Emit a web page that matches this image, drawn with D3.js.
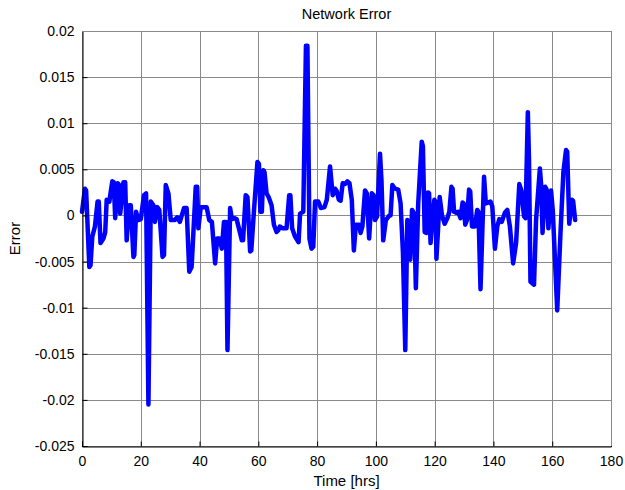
<!DOCTYPE html>
<html>
<head>
<meta charset="utf-8">
<script src="https://cdn.jsdelivr.net/npm/d3@7"></script>
<style>
  body { margin: 0; background: #fff; }
  text { font-family: Arial, "Liberation Sans", sans-serif; fill: #000; }
</style>
</head>
<body>
<svg id="chart" width="625" height="490"></svg>
<script>
// Data (time in hours, network error)
const hours = [0,1.0,1.4,2.5,2.9,3.5,4.4,5.3,5.7,6.3,7.3,7.9,8.4,9.3,10.3,10.8,11.3,12.1,12.7,13.0,
  14.1,14.7,15.2,16.0,16.6,17.5,17.8,18.4,19.2,20.0,21.1,21.8,22.6,23.4,24.3,24.8,25.6,26.3,27.4,27.9,
  28.5,29.4,30.2,31.6,32.4,33.3,34.7,35.6,36.5,37.3,38.7,39.2,39.6,40.4,42.4,43.3,44.2,45.3,46.0,46.8,
  47.6,48.3,49.0,49.5,50.4,51.0,51.8,52.6,53.4,54.4,54.8,55.7,56.3,57.2,57.6,58.6,59.7,60.2,60.7,61.2,
  61.7,62.1,62.8,63.5,64.5,65.3,66.2,66.8,67.3,68.3,69.6,70.5,70.9,71.5,72.5,73.7,74.2,75.3,76.2,76.7,
  77.4,78.1,78.7,79.3,80.4,81.3,82.5,83.3,84.4,85.3,86.1,86.6,87.4,88.0,88.7,89.5,90.3,91.0,91.8,92.5,
  93.2,94.3,94.8,95.4,96.3,96.9,97.7,98.6,99.2,99.7,100.4,101.4,101.9,102.5,103.4,104.6,105.0,105.6,106.5,107.6,
  108.4,109.2,110.0,110.7,111.2,111.7,112.3,113.0,113.6,114.4,115.6,116.0,116.6,117.1,117.7,118.1,118.6,119.2,119.9,120.3,
  120.6,121.2,121.7,122.5,123.4,124.3,125.0,125.7,126.1,126.6,127.3,128.0,128.8,129.5,129.9,130.4,131.0,131.7,132.1,132.7,
  133.7,134.5,134.9,135.6,136.8,137.4,139.0,139.6,140.5,141.3,142.0,142.8,143.9,144.7,145.6,146.7,147.7,148.8,149.5,150.4,
  150.9,151.7,152.1,152.6,153.8,154.5,155.8,156.3,156.7,157.6,158.1,158.7,159.6,160.2,161.7,162.8,163.8,164.7,165.1,165.8,
  166.7,167.1,167.8]
const errors = [0.0004,0.0029,0.0027,-0.0056,-0.0054,-0.0023,-0.0012,0.0015,0.0015,-0.0030,-0.0025,-0.0018,0.0017,0.0015,0.0037,0.0036,-0.0003,0.0035,0.0033,0.0002,
  0.0036,0.0036,-0.0027,0.0011,0.0011,-0.0045,-0.0043,0.0004,-0.0005,-0.0004,0.0022,0.0024,-0.0205,0.0015,0.0011,-0.0007,0.0009,0.0006,-0.0045,-0.0043,
  0.0033,0.0024,-0.0005,-0.0005,-0.0002,-0.0007,0.0008,0.0008,-0.0061,-0.0056,0.0031,0.0031,-0.0014,0.0009,0.0009,-0.0005,-0.0007,-0.0052,-0.0025,-0.0025,
  -0.0036,-0.0007,-0.0007,-0.0146,0.0008,-0.0004,-0.0003,-0.0004,-0.0014,-0.0027,-0.0027,0.0022,0.0020,-0.0039,-0.0038,0.0009,0.0058,0.0056,0.0004,0.0004,
  0.0049,0.0047,0.0024,0.0020,0.0011,-0.0010,-0.0018,-0.0016,-0.0012,-0.0014,-0.0014,0.0022,0.0022,-0.0014,-0.0023,-0.0029,0.0002,0.0004,0.0184,0.0184,
  -0.0025,-0.0036,-0.0034,0.0015,0.0015,0.0008,0.0009,0.0017,0.0053,0.0022,0.0029,0.0027,0.0017,0.0016,0.0035,0.0034,0.0037,0.0035,0.0017,-0.0038,
  -0.0010,-0.0010,-0.0019,-0.0012,0.0027,0.0024,-0.0025,0.0024,0.0022,-0.0005,-0.0001,0.0067,0.0038,-0.0027,-0.0005,0.0000,0.0000,0.0033,0.0029,0.0028,
  0.0013,-0.0040,-0.0146,-0.0005,-0.0009,-0.0048,0.0006,0.0002,-0.0079,0.0013,0.0080,0.0075,-0.0018,-0.0019,0.0025,0.0024,-0.0030,-0.0005,0.0017,0.0015,
  -0.0047,-0.0012,0.0020,0.0000,-0.0009,-0.0003,0.0004,0.0031,0.0029,0.0004,0.0003,0.0004,-0.0003,0.0014,0.0013,-0.0010,-0.0005,0.0028,0.0026,-0.0012,
  -0.0012,0.0006,0.0004,-0.0080,0.0042,0.0013,0.0015,0.0010,-0.0036,-0.0012,-0.0004,-0.0007,0.0003,0.0006,-0.0012,-0.0052,-0.0030,0.0034,0.0027,-0.0001,
  -0.0003,0.0112,0.0060,-0.0072,-0.0075,-0.0005,0.0051,0.0030,-0.0019,0.0031,0.0028,-0.0014,0.0027,0.0005,-0.0103,-0.0020,0.0047,0.0071,0.0069,-0.0009,
  0.0017,0.0016,-0.0005]

const xTicks = [0, 20, 40, 60, 80, 100, 120, 140, 160, 180]
const yTicks = [-0.025, -0.02, -0.015, -0.01, -0.005, 0, 0.005, 0.01, 0.015, 0.02]
const yTickLabels = ['-0.025', '-0.02', '-0.015', '-0.01', '-0.005', '0', '0.005', '0.01', '0.015', '0.02']

// Plot box in pixels
const plotLeft = 82, plotRight = 611, plotTop = 31, plotBottom = 446

const x = d3.scaleLinear().domain([0, 180]).range([plotLeft, plotRight])
const y = d3.scaleLinear().domain([-0.025, 0.02]).range([plotBottom, plotTop])

const svg = d3.select('#chart')

// grid lines
svg.append('g')
  .selectAll('line')
  .data(xTicks)
  .enter()
  .append('line')
  .attr('x1', d => Math.round(x(d)) + 0.5)
  .attr('x2', d => Math.round(x(d)) + 0.5)
  .attr('y1', plotTop)
  .attr('y2', plotBottom)
  .attr('stroke', '#8a8a8a')
  .attr('stroke-width', 1)

svg.append('g')
  .selectAll('line')
  .data(yTicks)
  .enter()
  .append('line')
  .attr('x1', plotLeft)
  .attr('x2', plotRight)
  .attr('y1', d => Math.round(y(d)) + 0.5)
  .attr('y2', d => Math.round(y(d)) + 0.5)
  .attr('stroke', '#8a8a8a')
  .attr('stroke-width', 1)

// the error line
const line = d3.line()
  .x((d, i) => x(hours[i]))
  .y(d => y(d))

svg.append('path')
  .datum(errors)
  .attr('d', line)
  .attr('fill', 'none')
  .attr('stroke', '#0000ff')
  .attr('stroke-width', 4.5)
  .attr('stroke-linejoin', 'round')
  .attr('stroke-linecap', 'round')

// axes: left and bottom with ticks pointing inward
const xAxis = d3.axisBottom(x).tickValues(xTicks).tickSize(-5).tickPadding(10).tickFormat(d3.format('d'))
const yAxis = d3.axisLeft(y).tickValues(yTicks).tickSize(-5).tickPadding(8)
  .tickFormat((d, i) => yTickLabels[i])

svg.append('g')
  .attr('transform', `translate(0,${plotBottom + 0.5})`)
  .call(xAxis)
  .call(g => g.selectAll('text').attr('font-size', 14).attr('font-family', 'Arial, "Liberation Sans", sans-serif'))

svg.append('g')
  .attr('transform', `translate(${plotLeft + 0.5},0)`)
  .call(yAxis)
  .call(g => g.selectAll('text').attr('font-size', 14).attr('font-family', 'Arial, "Liberation Sans", sans-serif'))

// top and right edges of the box
svg.append('line')
  .attr('x1', plotLeft).attr('x2', plotRight + 0.5)
  .attr('y1', plotTop + 0.5).attr('y2', plotTop + 0.5)
  .attr('stroke', '#8a8a8a')
svg.append('line')
  .attr('x1', plotRight + 0.5).attr('x2', plotRight + 0.5)
  .attr('y1', plotTop).attr('y2', plotBottom)
  .attr('stroke', '#8a8a8a')

// titles
svg.append('text')
  .attr('x', (plotLeft + plotRight) / 2)
  .attr('y', 19)
  .attr('text-anchor', 'middle')
  .style('font-size', '14.5px')
  .text('Network Error')

svg.append('text')
  .attr('x', (plotLeft + plotRight) / 2)
  .attr('y', 486)
  .attr('text-anchor', 'middle')
  .style('font-size', '15px')
  .text('Time [hrs]')

svg.append('text')
  .attr('transform', `translate(20,${(plotTop + plotBottom) / 2}) rotate(-90)`)
  .attr('text-anchor', 'middle')
  .style('font-size', '15px')
  .text('Error')
</script>
</body>
</html>
